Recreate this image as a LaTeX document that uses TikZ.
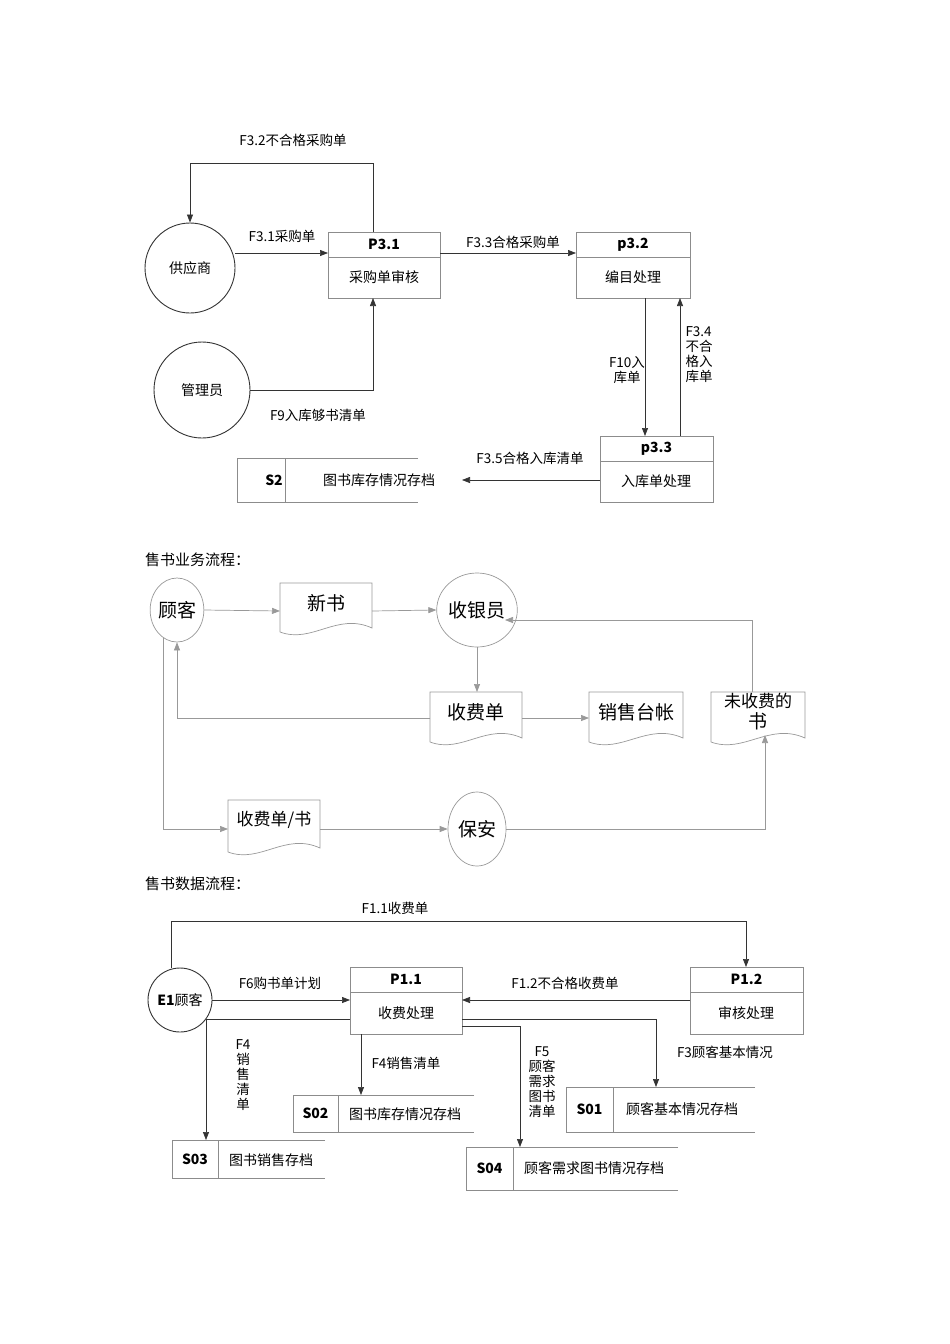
\documentclass[tikz,border=0pt]{standalone}
\usepackage{fontspec}
\setmainfont{Noto Sans CJK SC}
\usetikzlibrary{shapes.geometric,arrows.meta}
\begin{document}
\begin{tikzpicture}[x=1pt,y=-1pt,
  every node/.style={font=\fontsize{14}{16}\selectfont, inner sep=0pt},
  arr/.style={draw=black!80, line width=0.7pt, -{Triangle[length=8pt,width=6pt]}},
  garr/.style={draw=black!40, line width=0.7pt, -{Triangle[length=8pt,width=6pt]}},
  ent/.style={circle, draw=black!80, line width=0.9pt},
  gell/.style={ellipse, draw=black!40, line width=0.7pt, font=\fontsize{19}{21}\selectfont},
  lbl/.style={align=center, font=\fontsize{13.5}{15}\selectfont},
  glbl/.style={font=\fontsize{19}{21}\selectfont, align=center},
  pbox/.style={draw=black!45, line width=0.7pt},
  st/.style={draw=black!45, line width=0.7pt}]
\useasboundingbox (0,0) rectangle (950,1344);
\fill[white] (0,0) rectangle (950,1344);

\newcommand\proc[7]{% name x1 y1 x2 y2 ydiv id
  \draw[pbox] (#2,#3) rectangle (#4,#5);
  \draw[pbox] (#2,#6) -- (#4,#6);
  \coordinate (#1) at ({(#2+#4)/2},{(#3+#5)/2});
  \node (#1id) at ({(#2+#4)/2},{(#3+#6)/2}) {#7};
}
\newcommand\store[7]{% name x1 y1 x2 y2 xdiv id
  \draw[st] (#4,#3) -- (#2,#3) -- (#2,#5) -- (#4,#5);
  \draw[st] (#6,#3) -- (#6,#5);
  \node (#1) at ({(#2+#6)/2},{(#3+#5)/2}) {#7};
}
\newcommand\docu[6]{% name x1 y1 x2 y2 text
  \draw[draw=black!40, line width=0.7pt] (#2,{#5-4}) -- (#2,#3) -- (#4,#3) -- (#4,{#5-8})
    .. controls ({#2+0.62*(#4-#2)},{#5-24}) and ({#2+0.35*(#4-#2)},{#5+8}) .. (#2,{#5-4});
  \node[glbl] (#1) at ({(#2+#4)/2},{#3+20}) {#6};
}

% ===== top section =====
\node[ent, minimum size=90pt] (sup) at (190,268) {供应商};
\node[ent, minimum size=96pt] (mgr) at (202,390) {管理员};
\proc{p31}{328}{232}{440}{298}{257}{\textbf{P3.1}}
\node at (384,277) {采购单审核};
\proc{p32}{576}{232}{690}{298}{257}{\textbf{p3.2}}
\node at (633,277) {编目处理};
\proc{p33}{600}{436}{713}{502}{461}{\textbf{p3.3}}
\node at (656,481) {入库单处理};
\draw[st] (418,458) -- (237,458) -- (237,502) -- (418,502);
\draw[st] (285,458) -- (285,502);
\node (s2id) at (274,480) {\textbf{S2}};
\node (s2) at (379,480) {图书库存情况存档};

\coordinate (c1) at (373,163);
\coordinate (c2) at (190,163);
\draw[arr] (373,232) -- (c1) -- (c2) -- (sup.north);
\node[lbl] at (293,140) {F3.2不合格采购单};
\draw[arr] (sup.east |- 0,253) -- (328,253);
\node[lbl] at (282,236) {F3.1采购单};
\draw[arr] (440,253) -- (576,253);
\node[lbl] at (513,242) {F3.3合格采购单};
\draw[arr] (mgr.east) -- (373,390) -- (373,298);
\node[lbl] at (318,415) {F9入库够书清单};
\draw[arr] (645,298) -- (645,436);
\node[lbl] at (627,370) {F10入\\库单};
\draw[arr] (680,436) -- (680,298);
\node[lbl, align=left] at (699,355) {F3.4\\不合\\格入\\库单};
\draw[arr] (600,480) -- (462,480);
\node[lbl] at (530,458) {F3.5合格入库清单};

% ===== middle section =====
\node[anchor=west, font=\fontsize{15}{17}\selectfont] at (145,560) {售书业务流程：};
\node[gell, minimum width=50pt, minimum height=64pt] (gk) at (177,610) {顾客};
\docu{xs}{280}{583}{372}{636}{新书}
\node[gell, minimum width=58pt, minimum height=74pt] (sy) at (477,610) {收银员};
\docu{sfd}{430}{692}{522}{746}{收费单}
\docu{xstz}{589}{692}{683}{746}{销售台帐}
\docu{wsf}{711}{692}{805}{746}{\fontsize{17}{18}\selectfont 未收费的\\书}
\docu{sfs}{228}{800}{320}{856}{\fontsize{17}{19}\selectfont 收费单/书}
\node[gell, minimum width=58pt, minimum height=74pt] (ba) at (477,829) {保安};

\draw[garr] (gk.east) -- (280,611);
\draw[garr] (372,611) -- (sy.west);
\draw[garr] (sy.south) -- (477,692);
\draw[garr] (430,718) -- (177,718) -- (gk.south);
\draw[garr] (522,718) -- (589,718);
\draw[garr] (752,692) -- (752,620) -- (505,620);
\draw[garr] (163,638) -- (163,829) -- (228,829);
\draw[garr] (320,829) -- (ba.west);
\draw[garr] (ba.east) -- (765,829) -- (765,735);

% ===== bottom section =====
\node[anchor=west, font=\fontsize{15}{17}\selectfont] at (145,884) {售书数据流程：};
\node[ent, minimum size=64pt] (e1) at (180,1000) {\textbf{E1}顾客};
\proc{p11}{350}{967}{462}{1034}{992}{\textbf{P1.1}}
\node at (406,1013) {收费处理};
\proc{p12}{690}{967}{803}{1034}{992}{\textbf{P1.2}}
\node at (746,1013) {审核处理};
\store{s01}{566}{1087}{755}{1132}{613}{\textbf{S01}}
\node at (682,1109) {顾客基本情况存档};
\store{s02}{293}{1095}{474}{1132}{338}{\textbf{S02}}
\node at (405,1114) {图书库存情况存档};
\store{s03}{172}{1140}{325}{1178}{218}{\textbf{S03}}
\node at (271,1160) {图书销售存档};
\store{s04}{466}{1147}{678}{1190}{513}{\textbf{S04}}
\node at (594,1168) {顾客需求图书情况存档};

\draw[arr] (171,968) -- (171,921) -- (746,921) -- (746,967);
\node[lbl] at (395,908) {F1.1收费单};
\draw[arr] (e1.east) -- (350,1000);
\node[lbl] at (280,983) {F6购书单计划};
\draw[arr] (690,1000) -- (462,1000);
\node[lbl] at (565,983) {F1.2不合格收费单};
\draw[arr] (350,1019) -- (206,1019) -- (206,1140);
\node[lbl] at (243,1075) {F4\\销\\售\\清\\单};
\draw[arr] (361,1034) -- (361,1095);
\node[lbl] at (406,1063) {F4销售清单};
\draw[arr] (462,1026) -- (520,1026) -- (520,1147);
\node[lbl] at (542,1082) {F5\\顾客\\需求\\图书\\清单};
\draw[arr] (462,1019) -- (656,1019) -- (656,1087);
\node[lbl] at (725,1052) {F3顾客基本情况};
\end{tikzpicture}
\end{document}
